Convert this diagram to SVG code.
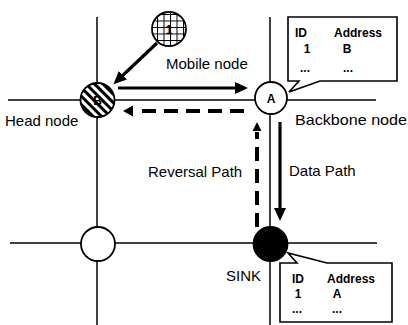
<svg xmlns="http://www.w3.org/2000/svg" width="408" height="325" viewBox="0 0 408 325">
<style>
.grid{stroke:#000;stroke-width:1.5;fill:none}
.node{stroke:#000;stroke-width:1.8}
.lbl{font-family:"Liberation Sans",Arial,sans-serif;font-size:15px;fill:#000}
.tb{font-family:"Liberation Sans",Arial,sans-serif;font-size:12px;font-weight:bold;fill:#000}
.solid{stroke:#000;stroke-width:3.2;fill:none}
.dash{stroke:#000;stroke-width:4;fill:none;stroke-dasharray:14 8}
.call{fill:#fff;stroke:#000;stroke-width:1.6}
</style>
<defs>
<marker id="ah" markerUnits="userSpaceOnUse" markerWidth="14" markerHeight="12" refX="4" refY="6" orient="auto">
<path d="M0,0 L13,6 L0,12 Z" fill="#000"/>
</marker>
<pattern id="stripes" patternUnits="userSpaceOnUse" width="6" height="6" patternTransform="rotate(-45)">
<rect width="6" height="6" fill="#fff"/>
<rect width="3" height="6" fill="#000"/>
</pattern>
<pattern id="mesh" patternUnits="userSpaceOnUse" width="6.5" height="6.5" x="1" y="1">
<rect width="6.5" height="6.5" fill="#fff"/>
<path d="M0,0 H6.5 M0,0 V6.5" stroke="#000" stroke-width="2"/>
</pattern>
</defs>

<g id="gridlines">
<line class="grid" x1="97" y1="17" x2="97" y2="325"/>
<line class="grid" x1="270" y1="17" x2="270" y2="325"/>
<line class="grid" x1="8" y1="100" x2="376" y2="100"/>
<line class="grid" x1="10" y1="243" x2="377" y2="243"/>
</g>

<g id="connectors">
<line class="solid" x1="157" y1="43" x2="120" y2="78" marker-end="url(#ah)"/>
<line class="solid" x1="118" y1="88" x2="239" y2="88" marker-end="url(#ah)"/>
<line class="dash" x1="244" y1="111" x2="138" y2="111"/>
<path d="M123,111 L133,105.5 L133,116.5 Z" fill="#000"/>
<line class="solid" x1="280" y1="122" x2="280" y2="212" marker-end="url(#ah)"/>
<line class="dash" x1="257" y1="227" x2="257" y2="132"/>
<path d="M257,122 L252.5,131 L261.5,131 Z" fill="#000"/>
</g>

<g id="mobile-node">
<circle class="node" cx="169" cy="29" r="17" fill="url(#mesh)"/>
<text class="tb" x="169" y="34" text-anchor="middle">1</text>
</g>

<g id="head-node">
<circle class="node" cx="97.5" cy="100" r="17" fill="url(#stripes)"/>
<text class="tb" x="97.5" y="104.5" text-anchor="middle">B</text>
</g>

<g id="node-a">
<circle class="node" cx="271" cy="98" r="16" fill="#fff"/>
<text class="tb" x="271" y="103" text-anchor="middle" font-size="14">A</text>
</g>

<g id="empty-node">
<circle class="node" cx="98" cy="244" r="17" fill="#fff"/>
</g>

<g id="sink">
<circle class="node" cx="270.5" cy="244" r="17" fill="#000"/>
</g>

<g id="callout-a">
<path class="call" d="M288,17 H397 V81 H320 L289,92 L299,81 H288 Z"/>
<text class="tb" x="295" y="37">ID</text>
<text class="tb" x="334" y="37">Address</text>
<text class="tb" x="307" y="53" text-anchor="middle">1</text>
<text class="tb" x="347" y="53" text-anchor="middle">B</text>
<text class="tb" x="305" y="72" text-anchor="middle" font-size="10">...</text>
<text class="tb" x="348" y="72" text-anchor="middle" font-size="10">...</text>
</g>

<g id="callout-sink">
<path class="call" d="M280,263 H297 L288,253 L327,263 H392 V322 H280 Z"/>
<text class="tb" x="292" y="283">ID</text>
<text class="tb" x="327" y="283">Address</text>
<text class="tb" x="298" y="298" text-anchor="middle">1</text>
<text class="tb" x="337" y="298" text-anchor="middle">A</text>
<text class="tb" x="297" y="313" text-anchor="middle" font-size="10">...</text>
<text class="tb" x="337" y="313" text-anchor="middle" font-size="10">...</text>
</g>

<g id="labels">
<text class="lbl" x="166" y="69">Mobile node</text>
<text class="lbl" x="5" y="126" font-size="14.5">Head node</text>
<text class="lbl" x="295" y="125" textLength="112" lengthAdjust="spacingAndGlyphs">Backbone node</text>
<text class="lbl" x="148" y="177">Reversal Path</text>
<text class="lbl" x="289" y="176">Data Path</text>
<text class="lbl" x="226" y="281">SINK</text>
</g>
</svg>
